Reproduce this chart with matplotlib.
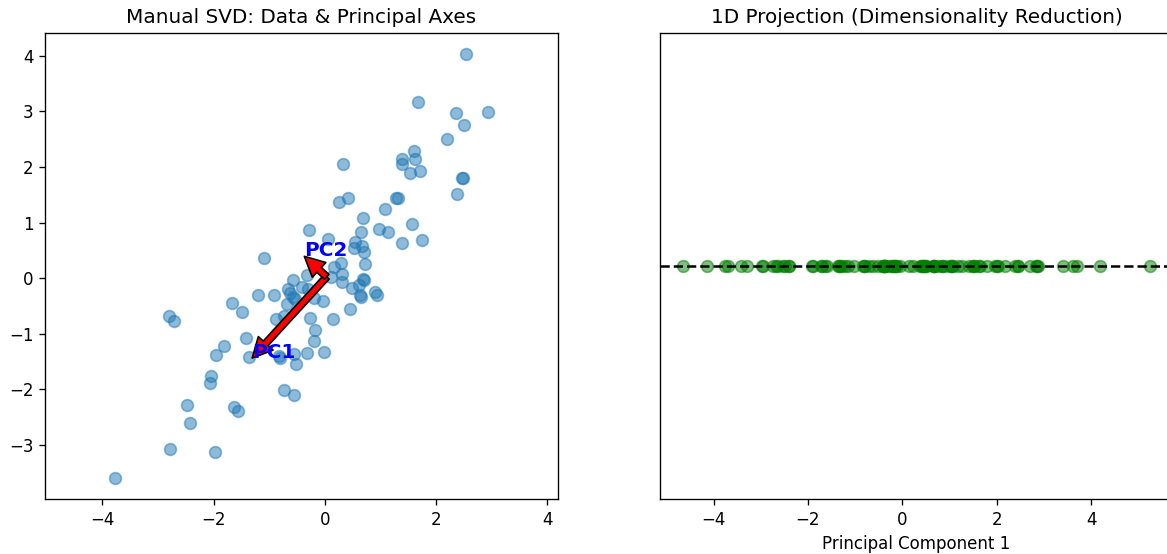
import numpy as np
import matplotlib
matplotlib.use("Agg")
import matplotlib.pyplot as plt

# points
x_vals = [2.53, 1.67, 2.36, 2.93, 2.51, 2.20, 1.61, 1.38, 1.63, 1.39,
          1.53, 1.71, 0.33, 2.46, 2.48, 2.38, 0.42, 0.26, 1.28, 1.32,
          1.08, 0.68, 1.56, 0.97, 1.13, 0.65, -0.29, 0.05, 1.39, 1.74,
          0.55, 0.52, 0.66, 0.70, 0.72, 0.29, 0.16, -0.32, 0.11, 0.30,
          0.30, 0.68, 0.70, 0.61, 0.48, 0.65, 0.64, 0.91, 0.93, -0.20,
          -0.04, -0.42, -0.30, 0.45, -0.27, 0.14, -0.18, -0.19, -0.33, -0.02,
          -0.55, -0.52, -0.55, -1.09, -0.58, -0.67, -0.63, -0.57, -1.20, -0.92,
          -1.67, -1.49, -0.68, -0.54, -0.74, -0.88, -2.81, -2.71, -1.42, -1.82,
          -1.96, -1.36, -0.83, -0.80, -2.04, -2.06, -0.74, -2.48, -1.64, -1.57,
          -2.43, -2.78, -1.98, -3.77]
y_vals = [4.03, 3.17, 2.98, 2.99, 2.76, 2.51, 2.29, 2.15, 2.14, 2.05,
          1.90, 1.93, 2.06, 1.80, 1.81, 1.51, 1.45, 1.37, 1.44, 1.44,
          1.24, 1.08, 0.97, 0.89, 0.84, 0.84, 0.86, 0.70, 0.64, 0.68,
          0.66, 0.54, 0.58, 0.48, 0.25, 0.28, 0.21, 0.05, 0.03, 0.07,
          -0.07, -0.01, -0.04, -0.13, -0.18, -0.33, -0.31, -0.25, -0.31, -0.35,
          -0.41, -0.16, -0.20, -0.56, -0.71, -0.74, -0.93, -1.13, -1.35, -1.32,
          -1.36, -1.55, -2.10, 0.37, -0.04, -0.20, -0.26, -0.34, -0.31, -0.31,
          -0.45, -0.61, -0.47, -0.37, -0.68, -0.74, -0.68, -0.77, -1.08, -1.21,
          -1.38, -1.42, -1.39, -1.44, -1.75, -1.88, -2.01, -2.28, -2.32, -2.39,
          -2.61, -3.08, -3.13, -3.59]

X = np.column_stack([x_vals, y_vals])
mean = X.mean(axis=0)
Xc = X - mean

# manual SVD
U, S, Vt = np.linalg.svd(Xc, full_matrices=False)
# keep both axes pointing to the left like the original
for i in range(2):
    if Vt[i, 0] > 0:
        Vt[i] = -Vt[i]
scale = S / np.sqrt(len(X) - 1)
proj = Xc @ Vt[0]

fig = plt.figure(figsize=(1167/120, 554/120), dpi=120)
ax1 = fig.add_axes([45/1167, 55/554, 513/1167, 466/554])
ax2 = fig.add_axes([660/1167, 55/554, 513/1167, 466/554])

ax1.scatter(X[:, 0], X[:, 1], s=50, alpha=0.5)
for i, name in enumerate(['PC1', 'PC2']):
    tip = mean + Vt[i] * scale[i]
    ax1.annotate('', xy=tip, xytext=mean,
                 arrowprops=dict(facecolor='red', shrink=0))
    ax1.text(tip[0], tip[1], name, color='blue', fontsize=12, fontweight='bold')
ax1.axis('equal')
ax1.set_title('Manual SVD: Data & Principal Axes')

ax2.scatter(proj, np.zeros_like(proj), s=50, alpha=0.5, color='green')
ax2.axhline(0, color='black', linestyle='--')
ax2.set_yticks([])
ax2.set_xlabel('Principal Component 1')
ax2.set_title('1D Projection (Dimensionality Reduction)')

plt.savefig('out.png', dpi=120)
